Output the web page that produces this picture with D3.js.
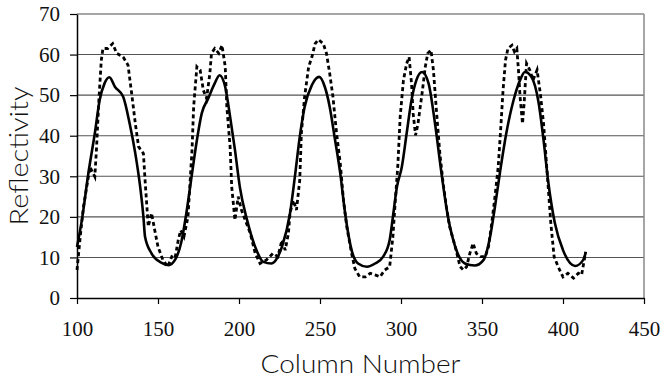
<!DOCTYPE html>
<html>
<head>
<meta charset="utf-8">
<script src="https://cdn.jsdelivr.net/npm/d3@7"></script>
<style>
  html, body { margin: 0; padding: 0; background: #fff; }
  svg { display: block; }
  .tick text { font-family: "Liberation Serif", "Times New Roman", serif; }
</style>
</head>
<body>
<div id="chart"></div>
<script>
// tick labels
const xTicks = [100, 150, 200, 250, 300, 350, 400, 450];
const yTicks = [0, 10, 20, 30, 40, 50, 60, 70];

// solid series
const colSolid = [100, 103, 107, 111, 114, 117, 120, 123.5, 128.5, 132.5, 136, 139, 141, 142, 146, 152, 156.5, 160.5,
  164.5, 167.5, 171, 174, 177, 181, 185, 188, 191.5, 194.5, 197.5, 200.5, 205, 210, 215, 220, 224, 226.5,
  231.5, 234.5, 237.5, 240.5, 245, 249.5, 253, 256, 259, 262.5, 265.5, 269.5, 273.5, 279, 284, 289, 293,
  295, 297.5, 300.5, 303.5, 306.5, 309.5, 313, 317, 321, 325, 329, 333.5, 339.5, 345.5, 351, 355, 358,
  361, 365, 369.5, 373.5, 376.5, 380.5, 385, 388, 391, 395, 400, 407.5, 412.5, 414];
const reflSolid = [12.6, 19.2, 30.7, 40.6, 48.8, 52.9, 54.4, 52, 49.6, 43, 35.6, 27.4, 20, 15.1, 11, 8.7, 8.1, 9.4,
  14, 20.9, 30.7, 38.9, 45.5, 49.2, 52.9, 54.9, 52, 44.7, 36.5, 27.4, 19.2, 12.6, 8.9, 8.5, 10.2, 12.6,
  20.9, 29.9, 39.7, 47.1, 52.5, 54.5, 52, 47.1, 39.7, 30.7, 20.9, 11.8, 8.5, 7.7, 8.5, 10.2, 14.3,
  20, 27.4, 32.3, 40.6, 48.8, 53.7, 55.7, 52.9, 43, 30.7, 20, 12.6, 8.5, 8, 9.4, 15.1, 22.5,
  30.7, 40.6, 48.8, 53.7, 55.7, 54.5, 48, 38.9, 28.3, 18.4, 11.8, 7.9, 9.4, 11.2];

// dashed series
const colDashed = [100, 102, 104, 106, 108, 110, 111, 112, 113.5, 115, 116, 119, 122, 124.5, 128.5, 131.5, 134, 136,
  138, 141, 142, 144, 146, 148, 150, 153, 156, 158.5, 160.5, 162.5, 164, 166, 168.5, 171, 172, 174, 176,
  178, 180, 182, 183, 185, 187.5, 189.5, 191.5, 192.5, 194.5, 195.5, 197.5, 199.5, 201.5, 205, 207, 210,
  213, 217, 221, 224, 226.5, 228.5, 230.5, 231.5, 233.5, 235.5, 237.5, 238.5, 240.5, 243, 245, 247, 249,
  252, 254, 256, 258, 260, 262.5, 264.5, 266.5, 269.5, 271.5, 274.5, 278, 281, 284, 287, 290, 293, 295,
  296.5, 298, 299.5, 301.5, 303.5, 305, 306.5, 307.5, 309, 310.5, 313, 315, 316.5, 318.5, 320, 322, 324,
  326, 328, 330, 333.5, 336.5, 338.5, 340.5, 342.5, 344.5, 346.5, 349, 352, 354, 356, 358, 360, 361.5,
  363, 364.5, 366, 368.5, 370, 371.5, 372.5, 373.5, 375, 376, 377.5, 379.5, 381.5, 384, 386, 388, 389.5,
  391, 392.5, 394.5, 397, 400, 403, 406.5, 409.5, 411.5, 414];
const reflDashed = [6.9, 15.1, 22.5, 27.4, 32.3, 30.7, 29.9, 36.5, 48.8, 58.6, 61.5, 61.5, 62.7, 60.3, 59.4, 57.4, 49.6, 43,
  37.3, 35.6, 29.1, 17.6, 20.9, 16.7, 12.6, 9.4, 7.7, 10.2, 9.8, 14.3, 16.7, 15.1, 20, 36.5, 47.1, 57, 56.2,
  51.2, 49.2, 55.3, 60.3, 61.5, 60.3, 62.3, 57, 47.1, 37.3, 27.4, 19.2, 25, 21.7, 18, 15.9, 11,
  8.5, 9.4, 11, 10.2, 14.3, 11.8, 15.9, 20.9, 24.1, 21.7, 29.1, 40.6, 49.6, 57, 59.4, 62.7, 63.7,
  62.7, 60.3, 55.3, 49.6, 41.4, 33.2, 24.1, 17.6, 11, 7.3, 5.2, 5.2, 6.1, 5.7, 5.2, 6.9, 7.7, 15.1,
  24.1, 32.3, 44.7, 53.7, 57.8, 59.4, 52.9, 45.5, 40.1, 43, 50.4, 57, 60.3, 61.1, 56.2, 45.5, 35.6,
  28.3, 22.5, 17.6, 12.6, 7.7, 6.9, 7.7, 11, 13.5, 11, 10.2, 10.2, 12.6, 18.4, 25, 32.3, 41.4,
  51.2, 58.6, 61.5, 62.3, 60.7, 61.5, 56.2, 49.6, 43, 48, 57.8, 56.2, 53.7, 56.2, 50.4, 43, 34.8,
  26.6, 18.4, 10.2, 7.7, 5.2, 6.1, 4.9, 6.1, 5.7, 11.4];

const width = 661;
const height = 378;
const margin = { top: 14, right: 17, bottom: 80, left: 77 };

const svg = d3.select('#chart')
  .append('svg')
  .attr('width', width)
  .attr('height', height);

const x = d3.scaleLinear()
  .domain([100, 450])
  .range([margin.left, width - margin.right]);

const y = d3.scaleLinear()
  .domain([0, 70])
  .range([height - margin.bottom, margin.top]);

// grid lines
svg.append('g')
  .selectAll('line')
  .data(yTicks.filter(d => d > 0))
  .enter()
  .append('line')
  .attr('x1', x(100))
  .attr('x2', x(450))
  .attr('y1', d => y(d))
  .attr('y2', d => y(d))
  .attr('stroke', d => d === 70 ? '#888' : '#555')
  .attr('stroke-width', d => d === 70 ? 1.5 : 1.1);

// right border
svg.append('line')
  .attr('x1', x(450)).attr('x2', x(450))
  .attr('y1', y(0)).attr('y2', y(70))
  .attr('stroke', '#888')
  .attr('stroke-width', 1.5);

const yAxis = svg.append('g')
  .attr('transform', `translate(${margin.left},0)`)
  .call(d3.axisLeft(y).tickValues(yTicks).tickSize(7).tickSizeOuter(0).tickPadding(10));

const xAxis = svg.append('g')
  .attr('transform', `translate(0,${height - margin.bottom})`)
  .call(d3.axisBottom(x).tickValues(xTicks).tickSize(6).tickSizeOuter(0).tickPadding(17));

[yAxis, xAxis].forEach(a => {
  a.attr('font-family', null);
  a.select('.domain').attr('stroke', '#000').attr('stroke-width', 1.5);
  a.selectAll('.tick line').attr('stroke', '#000').attr('stroke-width', 1.2);
  a.selectAll('.tick text')
    .attr('fill', '#111')
    .style('font-family', '"Liberation Serif", "Times New Roman", serif');
});
yAxis.selectAll('.tick text').style('font-size', '21px');
xAxis.selectAll('.tick text').style('font-size', '21px');

// series
const solidLine = d3.line()
  .x((d, i) => x(colSolid[i]))
  .y(d => y(d))
  .curve(d3.curveMonotoneX);

const dashedLine = d3.line()
  .x((d, i) => x(colDashed[i]))
  .y(d => y(d));

svg.append('path')
  .datum(reflDashed)
  .attr('fill', 'none')
  .attr('stroke', '#000')
  .attr('stroke-width', 2.8)
  .attr('stroke-dasharray', '4,3')
  .attr('d', dashedLine);

svg.append('path')
  .datum(reflSolid)
  .attr('fill', 'none')
  .attr('stroke', '#000')
  .attr('stroke-width', 2.6)
  .attr('stroke-linejoin', 'round')
  .attr('d', solidLine);

// axis titles
const titleFont = 'Lato, "Open Sans", sans-serif';

svg.append('text')
  .attr('x', (x(100) + x(450)) / 2)
  .attr('y', 373)
  .attr('text-anchor', 'middle')
  .attr('font-family', titleFont)
  .attr('font-weight', 300)
  .attr('font-size', '25px')
  .attr('textLength', 200)
  .attr('lengthAdjust', 'spacingAndGlyphs')
  .attr('fill', '#111')
  .text('Column Number');

svg.append('text')
  .attr('transform', `translate(28,${(y(0) + y(70)) / 2}) rotate(-90)`)
  .attr('text-anchor', 'middle')
  .attr('font-family', titleFont)
  .attr('font-weight', 300)
  .attr('font-size', '25px')
  .attr('textLength', 139)
  .attr('lengthAdjust', 'spacingAndGlyphs')
  .attr('fill', '#111')
  .text('Reflectivity');
</script>
</body>
</html>
